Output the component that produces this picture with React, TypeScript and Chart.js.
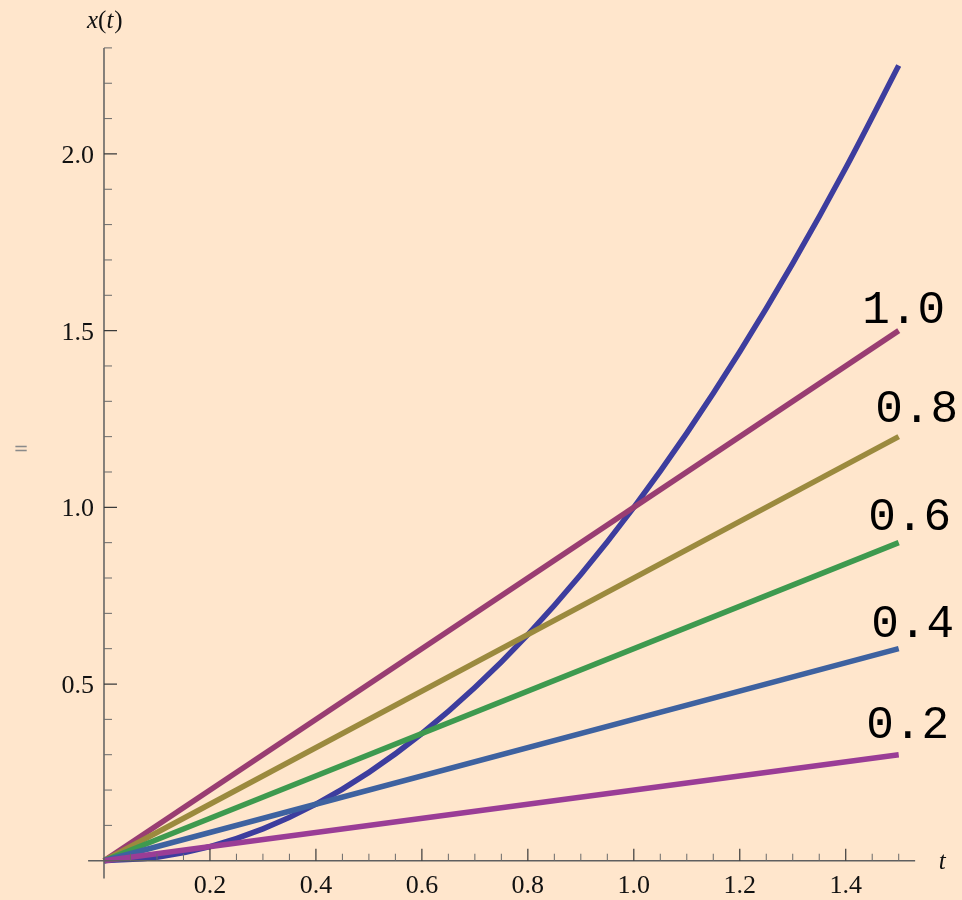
import React, { useEffect, useRef } from 'react';
import { Chart, registerables } from 'chart.js';

Chart.register(...registerables);

// ---- data ----
const times = [0, 0.1, 0.2, 0.3, 0.4, 0.5, 0.6, 0.7, 0.8, 0.9, 1.0, 1.1, 1.2, 1.3, 1.4, 1.5];
const curveValues = [0, 0.01, 0.04, 0.09, 0.16, 0.25, 0.36, 0.49, 0.64, 0.81, 1.0, 1.21, 1.44, 1.69, 1.96, 2.25];
const lineLabels = ['1.0', '0.8', '0.6', '0.4', '0.2'];
const lineTimes = [0, 1.5];
const lineStartValues = [0, 0, 0, 0, 0];
const lineEndValues = [1.5, 1.2, 0.9, 0.6, 0.3];
const xMajorTicks = [0.2, 0.4, 0.6, 0.8, 1.0, 1.2, 1.4];
const xMajorLabels = ['0.2', '0.4', '0.6', '0.8', '1.0', '1.2', '1.4'];
const xMinorTicks = [0.05, 0.1, 0.15, 0.25, 0.3, 0.35, 0.45, 0.5, 0.55, 0.65, 0.7, 0.75, 0.85, 0.9, 0.95, 1.05, 1.1, 1.15, 1.25, 1.3, 1.35, 1.45, 1.5];
const yMajorTicks = [0.5, 1.0, 1.5, 2.0];
const yMajorLabels = ['0.5', '1.0', '1.5', '2.0'];
const yMinorTicks = [0.1, 0.2, 0.3, 0.4, 0.6, 0.7, 0.8, 0.9, 1.1, 1.2, 1.3, 1.4, 1.6, 1.7, 1.8, 1.9, 2.1, 2.2, 2.3];

// ---- styles ----
const BG = '#FFE6CC';
const curveColor = '#3D3D9E';
const lineColors = ['#993D72', '#9B8A3E', '#3E9A4F', '#3E62A0', '#9A3D96'];
const labelOffsets = [[5, -8], [18, -15], [11, -13], [14, -12], [9, -17]];
const serif = '"Liberation Serif", "Times New Roman", serif';

const axesPlugin = {
  id: 'mmaAxes',
  beforeDraw(chart: any) {
    const ctx = chart.ctx;
    ctx.save();
    ctx.fillStyle = BG;
    ctx.fillRect(0, 0, chart.width, chart.height);
    ctx.restore();
  },
  afterDatasetsDraw(chart: any) {
    const ctx = chart.ctx;
    const xs = chart.scales.x;
    const ys = chart.scales.y;
    const x0 = xs.getPixelForValue(0);
    const y0 = ys.getPixelForValue(0);
    ctx.save();
    // axis lines
    ctx.strokeStyle = '#5f5f5f';
    ctx.lineWidth = 1.5;
    ctx.beginPath();
    ctx.moveTo(xs.getPixelForValue(-0.03), y0);
    ctx.lineTo(xs.getPixelForValue(1.531), y0);
    ctx.moveTo(x0, ys.getPixelForValue(-0.05));
    ctx.lineTo(x0, ys.getPixelForValue(2.3));
    ctx.stroke();
    // ticks
    ctx.lineWidth = 1.2;
    ctx.strokeStyle = '#3a3a3a';
    ctx.beginPath();
    xMajorTicks.forEach((v) => {
      const p = xs.getPixelForValue(v);
      ctx.moveTo(p, y0);
      ctx.lineTo(p, y0 - 12);
    });
    yMajorTicks.forEach((v) => {
      const p = ys.getPixelForValue(v);
      ctx.moveTo(x0, p);
      ctx.lineTo(x0 + 13, p);
    });
    ctx.stroke();
    ctx.strokeStyle = '#6a6a6a';
    ctx.lineWidth = 1;
    ctx.beginPath();
    xMinorTicks.forEach((v) => {
      const p = xs.getPixelForValue(v);
      ctx.moveTo(p, y0);
      ctx.lineTo(p, y0 - 7);
    });
    yMinorTicks.forEach((v) => {
      const p = ys.getPixelForValue(v);
      ctx.moveTo(x0, p);
      ctx.lineTo(x0 + 8, p);
    });
    ctx.stroke();
    // tick labels
    ctx.fillStyle = '#111';
    ctx.font = '26px ' + serif;
    ctx.textAlign = 'center';
    ctx.textBaseline = 'alphabetic';
    xMajorTicks.forEach((v, i) => {
      ctx.fillText(xMajorLabels[i], xs.getPixelForValue(v), y0 + 32);
    });
    ctx.textAlign = 'right';
    yMajorTicks.forEach((v, i) => {
      ctx.fillText(yMajorLabels[i], x0 - 10, ys.getPixelForValue(v) + 9);
    });
    // axis titles
    ctx.textAlign = 'left';
    const italic = 'italic 25px ' + serif;
    const upright = '25px ' + serif;
    ctx.font = italic;
    ctx.fillText('t', xs.getPixelForValue(1.5) + 40, y0 + 8);
    // x(t)
    let cx = x0 - 17;
    const by = 28;
    const parts: [string, string][] = [['x', italic], ['(', upright], ['t', italic], [')', upright]];
    parts.forEach(([s, f]) => {
      ctx.font = f;
      ctx.fillText(s, cx, by);
      cx += ctx.measureText(s).width + (s === 't' ? 1 : 0);
    });
    // stray symbol on the left
    ctx.fillStyle = '#8a8a8a';
    ctx.font = '18px "DejaVu Sans", sans-serif';
    ctx.textAlign = 'center';
    ctx.fillText('=', 21, 454);
    // line labels
    ctx.fillStyle = '#000';
    ctx.font = '46px "Liberation Mono", "Courier New", monospace';
    ctx.textAlign = 'center';
    lineLabels.forEach((lab, i) => {
      const px = xs.getPixelForValue(lineTimes[1]) + labelOffsets[i][0];
      const py = ys.getPixelForValue(lineEndValues[i]) + labelOffsets[i][1];
      ctx.fillText(lab, px, py);
    });
    ctx.restore();
  },
};

export default function App() {
  const ref = useRef<HTMLCanvasElement | null>(null);
  useEffect(() => {
    document.body.style.margin = '0';
    document.body.style.background = BG;
    const canvas = ref.current;
    if (!canvas) return;
    const curve = {
      label: 'x(t)',
      data: times.map((t, i) => ({ x: t, y: curveValues[i] })),
      borderColor: curveColor,
      borderWidth: 5.5,
      pointRadius: 0,
      cubicInterpolationMode: 'monotone' as const,
      fill: false,
    };
    const lines = lineLabels.map((lab, i) => ({
      label: lab,
      data: [
        { x: lineTimes[0], y: lineStartValues[i] },
        { x: lineTimes[1], y: lineEndValues[i] },
      ],
      borderColor: lineColors[i],
      borderWidth: 5.5,
      pointRadius: 0,
      fill: false,
    }));
    // draw order: curve first, then 1.0 ... 0.2 (0.2 on top)
    const datasets = [curve, ...lines].map((d, i, arr) => ({ ...d, order: arr.length - i }));
    const chart = new Chart(canvas, {
      type: 'line',
      data: { datasets },
      options: {
        animation: false,
        responsive: false,
        devicePixelRatio: 1,
        parsing: false as any,
        layout: { padding: { left: 88.1, right: 42.1, top: 47.9, bottom: 21.6 } },
        plugins: { legend: { display: false }, tooltip: { enabled: false } },
        elements: { line: { borderCapStyle: 'butt', borderJoinStyle: 'round' } },
        scales: {
          x: { type: 'linear', min: -0.03, max: 1.54, display: false },
          y: { type: 'linear', min: -0.05, max: 2.3, display: false },
        },
      },
      plugins: [axesPlugin],
    });
    return () => chart.destroy();
  }, []);
  return (
    <div style={{ position: 'absolute', left: 0, top: 0, width: 962, height: 900, background: BG }}>
      <canvas ref={ref} width={962} height={900} style={{ width: 962, height: 900, display: 'block' }} />
    </div>
  );
}
